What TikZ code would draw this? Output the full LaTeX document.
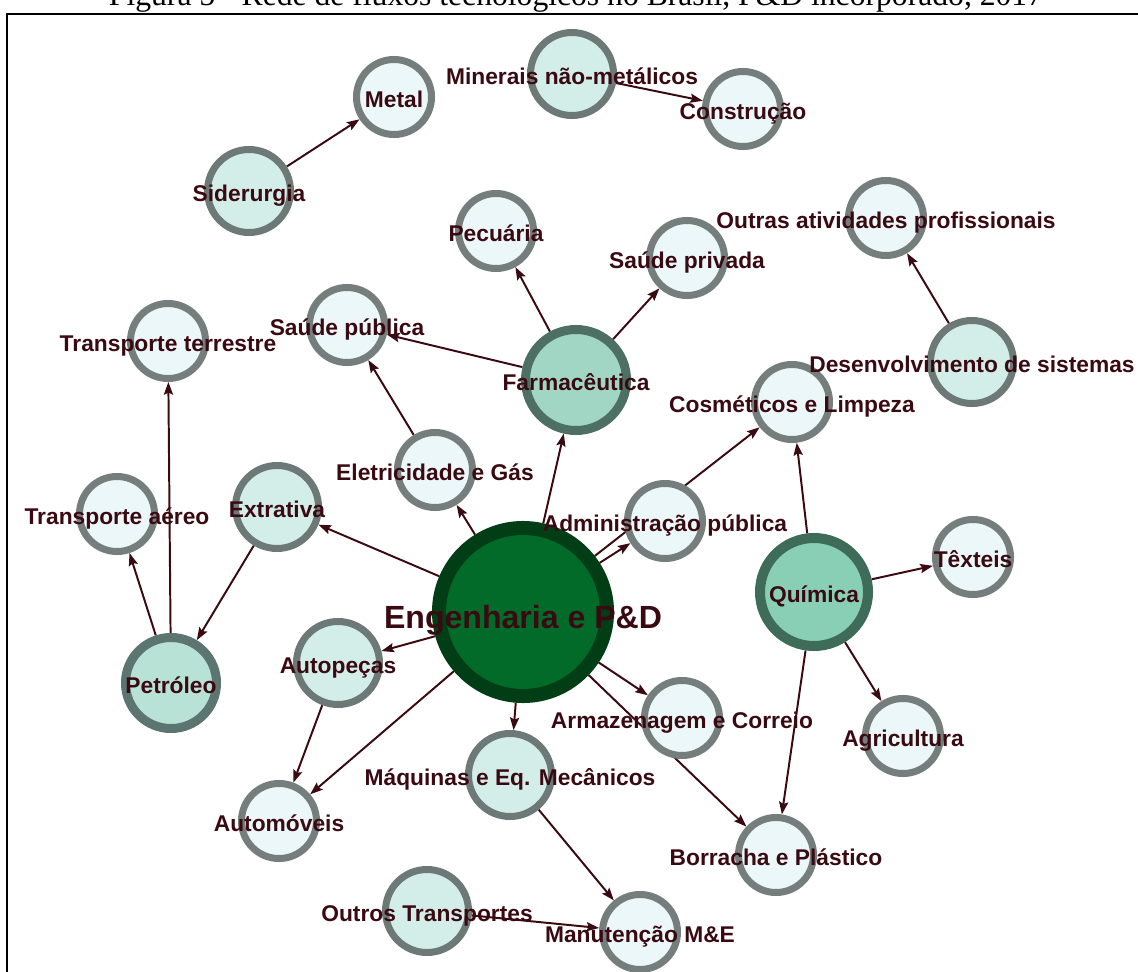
\documentclass[tikz,border=0pt]{standalone}
\usepackage{fontspec}
\setmainfont{Liberation Sans}
\newfontfamily\serifa{Liberation Serif}
\usetikzlibrary{arrows.meta}

\definecolor{marrom}{HTML}{3A0A12}
\definecolor{bordaum}{HTML}{767E7D}
\definecolor{fundoum}{HTML}{EBF7F8}
\definecolor{bordadois}{HTML}{6D7976}
\definecolor{fundodois}{HTML}{D3EDE8}
\definecolor{bordatres}{HTML}{5D7570}
\definecolor{fundotres}{HTML}{B9E2D7}
\definecolor{bordaquatro}{HTML}{4E7064}
\definecolor{fundoquatro}{HTML}{A1D6C4}
\definecolor{bordacinco}{HTML}{3F6B59}
\definecolor{fundocinco}{HTML}{88CFB6}
\definecolor{bordacentro}{HTML}{013D15}
\definecolor{fundocentro}{HTML}{036B2A}

\pgfdeclarelayer{fundo}
\pgfsetlayers{fundo,main}

\begin{document}
\begin{tikzpicture}[x=0.025cm, y=-0.025cm,
            tom1/.style={circle, draw=bordaum, fill=fundoum, line width=0.175cm, minimum size=1.875cm},
            tom2/.style={circle, draw=bordadois, fill=fundodois, line width=0.175cm, minimum size=2.075cm},
            tom3/.style={circle, draw=bordatres, fill=fundotres, line width=0.225cm, minimum size=2.275cm},
            tom4/.style={circle, draw=bordaquatro, fill=fundoquatro, line width=0.225cm, minimum size=2.525cm},
            tom5/.style={circle, draw=bordacinco, fill=fundocinco, line width=0.25cm, minimum size=2.7cm},
            centro/.style={circle, draw=bordacentro, fill=fundocentro, line width=0.35cm, minimum size=4.2cm},
            rotulo/.style={text=marrom, inner sep=0pt, anchor=base, yshift=-7.5pt, font=\fontsize{16.2}{19}\selectfont\bfseries},
            seta/.style={draw=marrom, line width=1.4pt, -{Stealth[length=9pt, width=6.5pt, inset=1.5pt]}},
        ]
        \useasboundingbox (0,0) rectangle (1138,972);
        \clip (0,0) rectangle (1138,972);
        \node[font=\serifa\fontsize{22.5}{27}\selectfont, anchor=base] (titulo) at (576,6)
            {Figura 5 - Rede de fluxos tecnológicos no Brasil, P\&D incorporado, 2017};
        \draw[line width=1pt] (7,14) rectangle (1160,1000);

        % circulos
        \node[centro] (eng) at (523,612) {};
        \node[tom4] (farm) at (576,380) {};
        \node[tom5] (quim) at (814,592) {};
        \node[tom3] (petr) at (171,683) {};
        \node[tom2] (extr) at (277,507) {};
        \node[tom2] (autop) at (338,663) {};
        \node[tom2] (maq) at (510,775) {};
        \node[tom2] (sider) at (249,191) {};
        \node[tom2] (miner) at (572,74) {};
        \node[tom2] (desenv) at (972,362) {};
        \node[tom2] (outros) at (427,911) {};
        \node[tom1] (metal) at (394,97) {};
        \node[tom1] (constr) at (743,109) {};
        \node[tom1] (pecu) at (496,231) {};
        \node[tom1] (saudepriv) at (687,258) {};
        \node[tom1] (outras) at (886,218) {};
        \node[tom1] (terr) at (168,341) {};
        \node[tom1] (saudepub) at (347,325) {};
        \node[tom1] (cosm) at (792,402) {};
        \node[tom1] (eletr) at (435,470) {};
        \node[tom1] (admin) at (665,521) {};
        \node[tom1] (aereo) at (117,514) {};
        \node[tom1] (text) at (973,557) {};
        \node[tom1] (agric) at (903,736) {};
        \node[tom1] (armaz) at (682,718) {};
        \node[tom1] (autom) at (279,821) {};
        \node[tom1] (borr) at (776,855) {};
        \node[tom1] (manut) at (640,932) {};

        % rotulos
        \node[rotulo, yshift=-4pt, font=\fontsize{22.8}{27}\selectfont\bfseries] at (eng) {Engenharia e P\&D};
        \node[rotulo] at (farm) {Farmacêutica};
        \node[rotulo] at (quim) {Química};
        \node[rotulo] at (petr) {Petróleo};
        \node[rotulo] at (extr) {Extrativa};
        \node[rotulo] at (autop) {Autopeças};
        \node[rotulo] at (maq) {Máquinas e Eq. Mecânicos};
        \node[rotulo] at (sider) {Siderurgia};
        \node[rotulo] at (miner) {Minerais não-metálicos};
        \node[rotulo] at (desenv) {Desenvolvimento de sistemas};
        \node[rotulo] at (outros) {Outros Transportes};
        \node[rotulo] at (metal) {Metal};
        \node[rotulo] at (constr) {Construção};
        \node[rotulo] at (pecu) {Pecuária};
        \node[rotulo] at (saudepriv) {Saúde privada};
        \node[rotulo] at (outras) {Outras atividades profissionais};
        \node[rotulo] at (terr) {Transporte terrestre};
        \node[rotulo] at (saudepub) {Saúde pública};
        \node[rotulo] at (cosm) {Cosméticos e Limpeza};
        \node[rotulo] at (eletr) {Eletricidade e Gás};
        \node[rotulo] at (admin) {Administração pública};
        \node[rotulo] at (aereo) {Transporte aéreo};
        \node[rotulo] at (text) {Têxteis};
        \node[rotulo] at (agric) {Agricultura};
        \node[rotulo] at (armaz) {Armazenagem e Correio};
        \node[rotulo] at (autom) {Automóveis};
        \node[rotulo] at (borr) {Borracha e Plástico};
        \node[rotulo] at (manut) {Manutenção M\&E};

        % fluxos
        \begin{pgfonlayer}{fundo}
        \draw[seta] (sider) -- (metal);
        \draw[seta] (miner) -- (constr);
        \draw[seta] (farm) -- (pecu);
        \draw[seta] (farm) -- (saudepriv);
        \draw[seta] (farm) -- (saudepub);
        \draw[seta] (desenv) -- (outras);
        \draw[seta] (eletr) -- (saudepub);
        \draw[seta] (eng) -- (eletr);
        \draw[seta] (eng) -- (farm);
        \draw[seta] (eng) -- (admin);
        \draw[seta] (eng) -- (cosm);
        \draw[seta] (eng) -- (extr);
        \draw[seta] (extr) -- (petr);
        \draw[seta] (petr) -- (aereo);
        \draw[seta] (petr) -- (terr);
        \draw[seta] (eng) -- (autop);
        \draw[seta] (autop) -- (autom);
        \draw[seta] (eng) -- (autom);
        \draw[seta] (eng) -- (maq);
        \draw[seta] (maq) -- (manut);
        \draw[seta] (outros) -- (manut);
        \draw[seta] (eng) -- (armaz);
        \draw[seta] (eng) -- (borr);
        \draw[seta] (quim) -- (borr);
        \draw[seta] (quim) -- (cosm);
        \draw[seta] (quim) -- (text);
        \draw[seta] (quim) -- (agric);
        \end{pgfonlayer}
    \end{tikzpicture}
\end{document}
